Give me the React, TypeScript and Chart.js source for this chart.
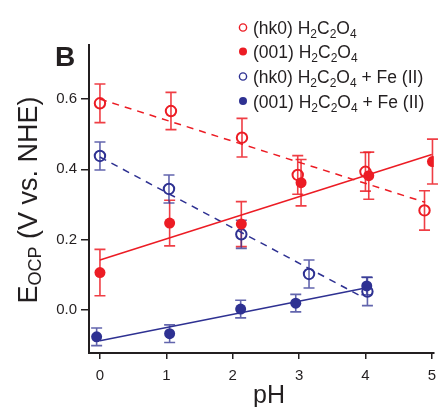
import React, { useEffect, useRef } from "react";
import { Chart, registerables } from "chart.js";

Chart.register(...registerables);

// ---- data ----
const phOpenRed = [0.0, 1.07, 2.14, 2.98, 4.0, 4.89];
const eOpenRed = [0.588, 0.566, 0.49, 0.384, 0.393, 0.283];
const errOpenRed = [0.055, 0.053, 0.055, 0.055, 0.055, 0.056];

const phFilledRed = [0.0, 1.05, 2.13, 3.03, 4.05, 5.01];
const eFilledRed = [0.106, 0.247, 0.244, 0.362, 0.382, 0.422];
const errFilledRed = [0.066, 0.065, 0.064, 0.066, 0.067, 0.064];

const phOpenBlue = [0.0, 1.04, 2.13, 3.15, 4.03];
const eOpenBlue = [0.438, 0.344, 0.215, 0.102, 0.052];
const errOpenBlue = [0.04, 0.04, 0.04, 0.04, 0.04];

const phFilledBlue = [-0.05, 1.05, 2.12, 2.95, 4.02];
const eFilledBlue = [-0.077, -0.068, 0.002, 0.019, 0.068];
const errFilledBlue = [0.025, 0.025, 0.025, 0.025, 0.025];

const fitRedSolidX = [0, 5];
const fitRedSolidY = [0.142, 0.442];
const fitRedDashX = [0, 4.9];
const fitRedDashY = [0.6, 0.306];
const fitBlueDashX = [0, 3.95];
const fitBlueDashY = [0.435, 0.037];
const fitBlueSolidX = [0, 4.0];
const fitBlueSolidY = [-0.088, 0.062];

const xTicks = [0, 1, 2, 3, 4, 5];
const yTicks = [0.0, 0.2, 0.4, 0.6];

const legendItems = [
  { pre: "(hk0) ", formula: true, post: "", color: "red", filled: false },
  { pre: "(001) ", formula: true, post: "", color: "red", filled: true },
  { pre: "(hk0) ", formula: true, post: " + Fe (II)", color: "blue", filled: false },
  { pre: "(001) ", formula: true, post: " + Fe (II)", color: "blue", filled: true },
];

const RED = "#ec1c24";
const BLUE = "#2e3192";
const RED_ERR = "rgba(236,28,36,0.85)";
const BLUE_ERR = "rgba(46,49,146,0.75)";
const FONT = "'Liberation Sans', Arial, Helvetica, sans-serif";

const zip = (xs: number[], ys: number[]) => xs.map((x, i) => ({ x, y: ys[i] }));

const errorBarPlugin = {
  id: "errorBars",
  beforeDatasetsDraw(chart: any) {
    const { ctx, scales } = chart;
    const xs = scales.x;
    const ys = scales.y;
    chart.data.datasets.forEach((ds: any) => {
      if (!ds.errors) return;
      ctx.save();
      ctx.strokeStyle = ds.errColor;
      ctx.lineWidth = 1.6;
      ds.data.forEach((p: any, i: number) => {
        const e = ds.errors[i];
        const px = xs.getPixelForValue(p.x);
        const top = ys.getPixelForValue(p.y + e);
        const bot = ys.getPixelForValue(p.y - e);
        const w = 5.5;
        ctx.beginPath();
        ctx.moveTo(px, top);
        ctx.lineTo(px, bot);
        ctx.moveTo(px - w, top);
        ctx.lineTo(px + w, top);
        ctx.moveTo(px - w, bot);
        ctx.lineTo(px + w, bot);
        ctx.stroke();
      });
      ctx.restore();
    });
  },
};

function drawFormula(ctx: CanvasRenderingContext2D, x: number, y: number, main: number, sub: number, subOff: number) {
  const parts: [string, boolean][] = [["H", false], ["2", true], ["C", false], ["2", true], ["O", false], ["4", true]];
  let cx = x;
  for (const [t, s] of parts) {
    ctx.font = `${s ? sub : main}px ${FONT}`;
    ctx.fillText(t, cx, s ? y + subOff : y);
    cx += ctx.measureText(t).width;
  }
  return cx;
}

const decorPlugin = {
  id: "decor",
  afterDraw(chart: any) {
    const ctx: CanvasRenderingContext2D = chart.ctx;
    ctx.save();
    ctx.textBaseline = "alphabetic";
    ctx.textAlign = "left";

    ctx.fillStyle = "#231f20";
    ctx.font = `bold 28px ${FONT}`;
    ctx.fillText("B", 55, 66);

    const rowY = [27.5, 51.5, 76.5, 101];
    legendItems.forEach((it, i) => {
      const cy = rowY[i];
      const col = it.color === "red" ? RED : BLUE;
      ctx.beginPath();
      ctx.arc(243, cy, it.filled ? 4 : 3.6, 0, Math.PI * 2);
      if (it.filled) {
        ctx.fillStyle = col;
        ctx.fill();
      } else {
        ctx.strokeStyle = col;
        ctx.lineWidth = 1.4;
        ctx.stroke();
      }
      ctx.fillStyle = "#231f20";
      const base = cy + 6.5;
      ctx.font = `17.5px ${FONT}`;
      ctx.fillText(it.pre, 253, base);
      let x = 253 + ctx.measureText(it.pre).width;
      x = drawFormula(ctx, x, base, 17.5, 12, 4);
      ctx.font = `17.5px ${FONT}`;
      ctx.fillText(it.post, x, base);
    });

    ctx.fillStyle = "#231f20";
    ctx.font = `25px ${FONT}`;
    ctx.textAlign = "center";
    ctx.fillText("pH", 269, 403);

    ctx.textAlign = "left";
    ctx.save();
    ctx.translate(37, 200);
    ctx.rotate(-Math.PI / 2);
    const mainF = `27px ${FONT}`;
    const subF = `18px ${FONT}`;
    ctx.font = mainF;
    const wE = ctx.measureText("E").width;
    const rest = " (V vs. NHE)";
    const wRest = ctx.measureText(rest).width;
    ctx.font = subF;
    const wSub = ctx.measureText("OCP").width;
    const total = wE + wSub + wRest;
    let sx = -total / 2;
    ctx.font = mainF;
    ctx.fillText("E", sx, 0);
    sx += wE;
    ctx.font = subF;
    ctx.fillText("OCP", sx, 4);
    sx += wSub;
    ctx.font = mainF;
    ctx.fillText(rest, sx, 0);
    ctx.restore();

    ctx.restore();
  },
};

export default function App() {
  const ref = useRef<HTMLCanvasElement | null>(null);
  useEffect(() => {
    if (!ref.current) return;
    const pointDs = (xs: number[], ys: number[], errs: number[], color: string, errColor: string, filled: boolean) => ({
      type: "scatter",
      data: zip(xs, ys),
      errors: errs,
      errColor,
      pointRadius: filled ? 5.5 : 5.2,
      pointBorderWidth: filled ? 0 : 2,
      pointBackgroundColor: filled ? color : "rgba(255,255,255,0)",
      pointBorderColor: color,
      showLine: false,
      order: 1,
    });
    const lineDs = (xs: number[], ys: number[], color: string, dashed: boolean) => ({
      type: "line",
      data: zip(xs, ys),
      borderColor: color,
      borderWidth: 1.5,
      borderDash: dashed ? [7, 6] : [],
      pointRadius: 0,
      fill: false,
      order: 2,
    });
    const chart = new Chart(ref.current, {
      type: "scatter",
      data: {
        datasets: [
          lineDs(fitRedSolidX, fitRedSolidY, RED, false),
          lineDs(fitRedDashX, fitRedDashY, RED, true),
          lineDs(fitBlueDashX, fitBlueDashY, BLUE, true),
          lineDs(fitBlueSolidX, fitBlueSolidY, BLUE, false),
          pointDs(phOpenRed, eOpenRed, errOpenRed, RED, RED_ERR, false),
          pointDs(phFilledRed, eFilledRed, errFilledRed, RED, RED_ERR, true),
          pointDs(phOpenBlue, eOpenBlue, errOpenBlue, BLUE, BLUE_ERR, false),
          pointDs(phFilledBlue, eFilledBlue, errFilledBlue, BLUE, BLUE_ERR, true),
        ] as any,
      },
      options: {
        responsive: false,
        animation: false,
        devicePixelRatio: 1,
        layout: { padding: { left: 0, top: 45, right: 6, bottom: 0 } },
        plugins: { legend: { display: false }, tooltip: { enabled: false } },
        scales: {
          x: {
            type: "linear",
            min: -0.165,
            max: 5.03,
            afterBuildTicks: (s: any) => {
              s.ticks = xTicks.map((v) => ({ value: v }));
            },
            afterFit: (s: any) => {
              s.height = 54;
              s.paddingLeft = 0;
              s.paddingRight = 0;
            },
            ticks: {
              color: "#231f20",
              font: { family: FONT, size: 15 },
              padding: 8,
              maxRotation: 0,
              callback: (v: any) => String(v),
            },
            grid: { drawOnChartArea: false, drawTicks: true, tickLength: 6, color: "#231f20", lineWidth: 1.5 },
            border: { display: true, color: "#231f20", width: 2 },
          },
          y: {
            type: "linear",
            min: -0.123,
            max: 0.754,
            afterBuildTicks: (s: any) => {
              s.ticks = yTicks.map((v) => ({ value: v }));
            },
            afterFit: (s: any) => {
              s.width = 89;
              s.paddingTop = 0;
              s.paddingBottom = 0;
            },
            ticks: {
              color: "#231f20",
              font: { family: FONT, size: 15 },
              padding: 4,
              callback: (v: any) => Number(v).toFixed(1),
            },
            grid: { drawOnChartArea: false, drawTicks: true, tickLength: 8, color: "#231f20", lineWidth: 1.5 },
            border: { display: true, color: "#231f20", width: 2 },
          },
        },
      } as any,
      plugins: [errorBarPlugin, decorPlugin],
    });
    return () => chart.destroy();
  }, []);
  return (
    <div style={{ position: "absolute", left: 0, top: 0, width: 441, height: 407, background: "#fff" }}>
      <canvas ref={ref} width={441} height={407} style={{ display: "block" }} />
    </div>
  );
}
